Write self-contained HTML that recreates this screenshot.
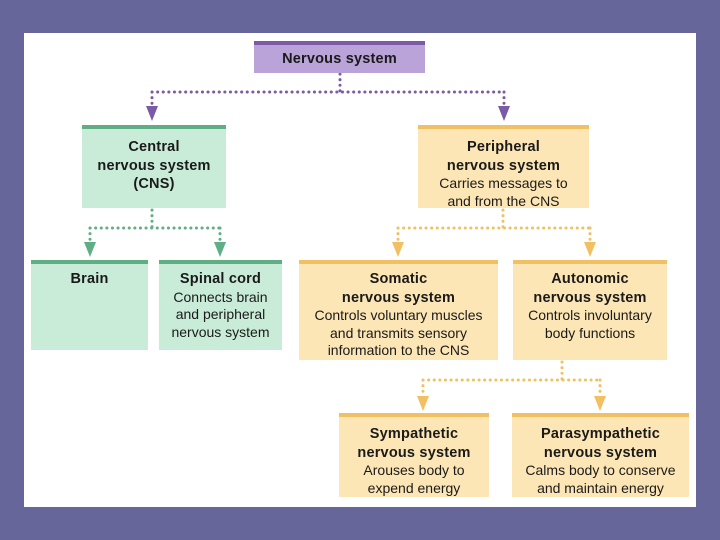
<!DOCTYPE html>
<html><head><style>
body{margin:0;width:720px;height:540px;background:#67669a;position:relative;overflow:hidden;font-family:"Liberation Sans",sans-serif}
#panel{position:absolute;left:24px;top:33px;width:672px;height:474px;background:#fff}
.b{position:absolute;box-sizing:border-box;text-align:center;color:#1a1a1a;font-size:14px;line-height:17.5px;padding-top:6px}
.b b{font-size:14.5px;letter-spacing:0.2px}
.p{background:#b9a3d8;border-top:4px solid #7b5aa6}
.g{background:#c9ecd8;border-top:4px solid #5fae86}
.y{background:#fde6b5;border-top:4px solid #f1c062}
svg{position:absolute;left:0;top:0}
</style></head><body>
<div id="panel"></div>
<svg width="720" height="540">
<g stroke-width="3" stroke-dasharray="0.1 5.5" stroke-linecap="round" fill="none">
<path d="M340 74V92M152 92H504M152 92V106M504 92V106" stroke="#7b5aa6"/>
<path d="M152 210V228M90 228H220M90 228V242M220 228V242" stroke="#5fae86"/>
<path d="M503 210V228M398 228H590M398 228V242M590 228V242" stroke="#f1c062"/>
<path d="M562 362V380M423 380H600M423 380V396M600 380V396" stroke="#f1c062"/>
</g>
<g>
<path d="M146 106h12l-6 15z M498 106h12l-6 15z" fill="#7b5aa6"/>
<path d="M84 242h12l-6 15z M214 242h12l-6 15z" fill="#5fae86"/>
<path d="M392 242h12l-6 15z M584 242h12l-6 15z M417 396h12l-6 15z M594 396h12l-6 15z" fill="#f1c062"/>
</g>
</svg>
<div class="b p" style="left:254px;top:41px;width:171px;height:32px;padding-top:5px"><b>Nervous system</b></div>
<div class="b g" style="left:82px;top:125px;width:144px;height:83px;padding-top:9px"><b>Central<br>nervous system<br>(CNS)</b></div>
<div class="b y" style="left:418px;top:125px;width:171px;height:83px;padding-top:9px"><b>Peripheral<br>nervous system</b><br>Carries messages to<br>and from the CNS</div>
<div class="b g" style="left:31px;top:260px;width:117px;height:90px;padding-top:6px"><b>Brain</b></div>
<div class="b g" style="left:159px;top:260px;width:123px;height:90px;padding-top:6px"><b>Spinal cord</b><br>Connects brain<br>and peripheral<br>nervous system</div>
<div class="b y" style="left:299px;top:260px;width:199px;height:100px;padding-top:6px"><b>Somatic<br>nervous system</b><br>Controls voluntary muscles<br>and transmits sensory<br>information to the CNS</div>
<div class="b y" style="left:513px;top:260px;width:154px;height:100px;padding-top:6px"><b>Autonomic<br>nervous system</b><br>Controls involuntary<br>body functions</div>
<div class="b y" style="left:339px;top:413px;width:150px;height:84px;padding-top:8px"><b>Sympathetic<br>nervous system</b><br>Arouses body to<br>expend energy</div>
<div class="b y" style="left:512px;top:413px;width:177px;height:84px;padding-top:8px"><b>Parasympathetic<br>nervous system</b><br>Calms body to conserve<br>and maintain energy</div>
</body></html>
